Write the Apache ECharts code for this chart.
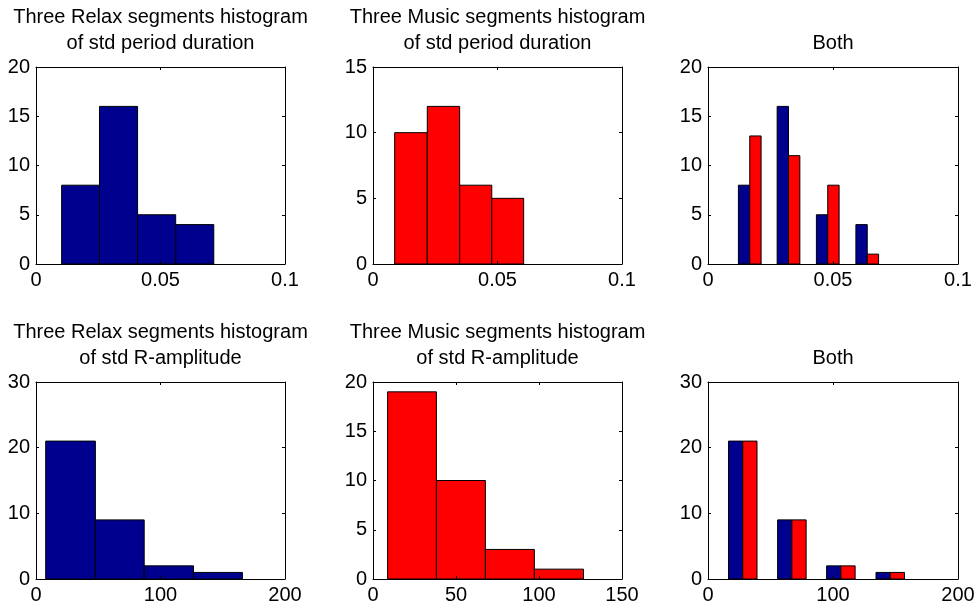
<!DOCTYPE html>
<html>
<head>
<meta charset="utf-8">
<script src="https://cdn.jsdelivr.net/npm/echarts@6/dist/echarts.min.js"></script>
<style>
html,body{margin:0;padding:0;background:#fff;}
#c{width:979px;height:607px;}
</style>
</head>
<body>
<div id="c"></div>
<script>
// ---- data ----
// Top row: std period duration (bin edges and counts)
const relaxPeriodEdges = [0.0103, 0.0255, 0.0408, 0.0561, 0.0714];
const relaxPeriodCounts = [8, 16, 5, 4];
const musicPeriodEdges = [0.0087, 0.0218, 0.0348, 0.0477, 0.0605];
const musicPeriodCounts = [10, 12, 6, 5];
const bothPeriodCenters = [0.0167, 0.0322, 0.0479, 0.0637];
const bothPeriodRelax = [8, 16, 5, 4];
const bothPeriodMusic = [13, 11, 8, 1];
// Bottom row: std R-amplitude
const relaxAmpEdges = [7.8, 47.7, 86.9, 126.5, 165.8];
const relaxAmpCounts = [21, 9, 2, 1];
const musicAmpEdges = [8.8, 38.2, 67.7, 97.2, 126.8];
const musicAmpCounts = [19, 10, 3, 1];
const bothAmpCenters = [27.8, 67.1, 106.3, 145.8];
const bothAmpRelax = [21, 9, 2, 1];
const bothAmpMusic = [21, 9, 2, 1];

const titles = [
  ["Three Relax segments histogram", "of std period duration"],
  ["Three Music segments histogram", "of std period duration"],
  ["Both"],
  ["Three Relax segments histogram", "of std R-amplitude"],
  ["Three Music segments histogram", "of std R-amplitude"],
  ["Both"]
];
const xRanges = [[0, 0.1, 0.05], [0, 0.1, 0.05], [0, 0.1, 0.05], [0, 200, 100], [0, 150, 50], [0, 200, 100]];
const yRanges = [[0, 20, 5], [0, 15, 5], [0, 20, 5], [0, 30, 10], [0, 20, 5], [0, 30, 10]];

// ---- styling / layout ----
const BLUE = '#00008F';
const RED = '#FF0000';
const FONT = '"Liberation Sans", Arial, Helvetica, sans-serif';
const FS = 20;
const grids = [
  {left: 36, top: 67, width: 249, height: 197},
  {left: 373, top: 67, width: 249, height: 197},
  {left: 708, top: 67, width: 250, height: 197},
  {left: 36, top: 382, width: 249, height: 197},
  {left: 373, top: 382, width: 249, height: 197},
  {left: 708, top: 382, width: 250, height: 197}
];
const GROUP_FRAC = 0.29;

function histData(edges, counts) {
  return counts.map((c, i) => [edges[i], edges[i + 1], c]);
}
function groupedData(centers, counts, side) {
  const sp = (centers[centers.length - 1] - centers[0]) / (centers.length - 1);
  const w = sp * GROUP_FRAC;
  return counts.map((c, i) => side < 0 ? [centers[i] - w, centers[i], c] : [centers[i], centers[i] + w, c]);
}
function rectSeries(idx, data, color) {
  return {
    type: 'custom',
    xAxisIndex: idx * 2,
    yAxisIndex: idx * 2,
    encode: {x: [0, 1], y: 2},
    data: data,
    renderItem: function (params, api) {
      const p0 = api.coord([api.value(0), api.value(2)]);
      const p1 = api.coord([api.value(1), 0]);
      return {
        type: 'rect',
        shape: {x: p0[0], y: p0[1], width: p1[0] - p0[0], height: p1[1] - p0[1]},
        style: {fill: color, stroke: '#000', lineWidth: 1}
      };
    },
    z: 1
  };
}

const xAxes = [], yAxes = [];
grids.forEach((g, i) => {
  const xr = xRanges[i], yr = yRanges[i];
  const common = {
    type: 'value',
    gridIndex: i,
    splitLine: {show: false},
    axisLine: {show: true, onZero: false, lineStyle: {color: '#000', width: 1}},
    axisTick: {show: true, inside: true, length: 3, lineStyle: {color: '#000'}},
    z: 5
  };
  xAxes.push(Object.assign({}, common, {
    position: 'bottom', min: xr[0], max: xr[1], interval: xr[2],
    axisLabel: {show: true, color: '#000', fontSize: FS, fontFamily: FONT, margin: 6, showMinLabel: true, showMaxLabel: true}
  }));
  xAxes.push(Object.assign({}, common, {
    position: 'top', min: xr[0], max: xr[1], interval: xr[2], axisLabel: {show: false}
  }));
  yAxes.push(Object.assign({}, common, {
    position: 'left', min: yr[0], max: yr[1], interval: yr[2],
    axisLabel: {show: true, color: '#000', fontSize: FS, fontFamily: FONT, margin: 6, showMinLabel: true, showMaxLabel: true}
  }));
  yAxes.push(Object.assign({}, common, {
    position: 'right', min: yr[0], max: yr[1], interval: yr[2], axisLabel: {show: false}
  }));
});

const series = [
  rectSeries(0, histData(relaxPeriodEdges, relaxPeriodCounts), BLUE),
  rectSeries(1, histData(musicPeriodEdges, musicPeriodCounts), RED),
  rectSeries(2, groupedData(bothPeriodCenters, bothPeriodRelax, -1), BLUE),
  rectSeries(2, groupedData(bothPeriodCenters, bothPeriodMusic, 1), RED),
  rectSeries(3, histData(relaxAmpEdges, relaxAmpCounts), BLUE),
  rectSeries(4, histData(musicAmpEdges, musicAmpCounts), RED),
  rectSeries(5, groupedData(bothAmpCenters, bothAmpRelax, -1), BLUE),
  rectSeries(5, groupedData(bothAmpCenters, bothAmpMusic, 1), RED)
];

const graphics = [];
titles.forEach((lines, i) => {
  const g = grids[i];
  const cx = g.left + g.width / 2;
  const lastY = g.top - 24;
  lines.forEach((t, j) => {
    graphics.push({
      type: 'text',
      x: cx,
      y: lastY - (lines.length - 1 - j) * 26,
      style: {text: t, fill: '#000', font: FS + 'px ' + FONT, textAlign: 'center', textVerticalAlign: 'middle'}
    });
  });
});

const chart = echarts.init(document.getElementById('c'), null, {renderer: 'canvas'});
chart.setOption({
  animation: false,
  backgroundColor: '#fff',
  grid: grids.map(g => Object.assign({containLabel: false}, g)),
  xAxis: xAxes,
  yAxis: yAxes,
  series: series,
  graphic: graphics
});
</script>
</body>
</html>
